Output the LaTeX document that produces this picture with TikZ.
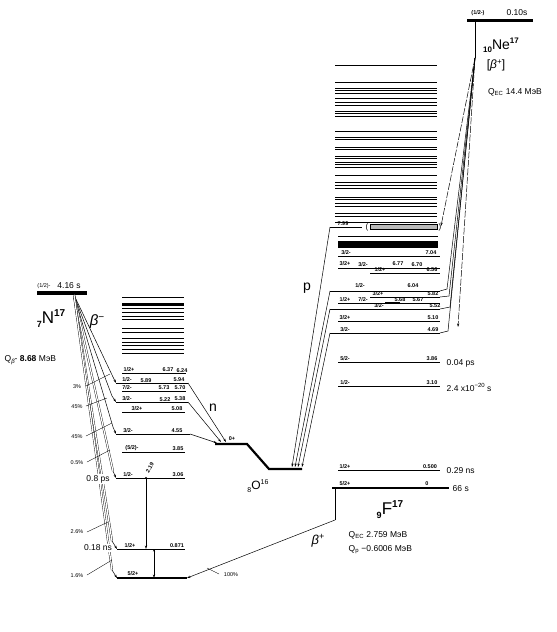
\documentclass[tikz,border=0pt]{standalone}
\usepackage{fontspec}
\setmainfont{Liberation Sans}
\usetikzlibrary{arrows.meta}
\newcommand\mklev[5][lev]{\coordinate (#2-l) at (#3,#5); \coordinate (#2-r) at (#4,#5); \draw[#1] (#2-l) -- (#2-r);}
\newcounter{lbc}
\newcommand\lab[4][sp]{\stepcounter{lbc}\node[#1] (lb\thelbc) at (#2,#3) {#4};}
\begin{document}
\begin{tikzpicture}[x=1pt,y=-1pt,
 lev/.style={line width=0.7pt},
 glev/.style={line width=2.8pt},
 sp/.style={font=\fontsize{5.5}{6}\selectfont\bfseries, inner sep=0.3pt, anchor=south},
 lbl/.style={font=\fontsize{8.5}{10}\selectfont, inner sep=0.5pt},
 pct/.style={font=\fontsize{5.5}{6}\selectfont, inner sep=0.5pt},
 arr/.style={-{Stealth[length=3.5pt,width=2.2pt]}, line width=0.5pt},
 bl/.style={line width=0.5pt},
 dbl/.style={double, double distance=1.3pt, line width=0.35pt},
 big/.style={font=\fontsize{17}{18}\selectfont, inner sep=0pt},
]
\fill[white] (0,0) rectangle (557,632);
\useasboundingbox (0,0) rectangle (557,632);

% ---------------- N17 ----------------
\mklev[line width=3.5pt]{n17}{37}{87}{293}
\lab[pct]{44}{286}{(1/2)-}
\lab[lbl]{69}{285.5}{4.16 s}
\node[big] (n17name) at (51,319) {\raisebox{-4pt}{\fontsize{9}{9}\selectfont\bfseries 7}N\raisebox{7pt}{\fontsize{10}{10}\selectfont\bfseries 17}};
\node[font=\fontsize{15}{15}\selectfont, inner sep=0pt] (bminus) at (97,322) {{\itshape β}\raisebox{5pt}{\fontsize{10}{10}\selectfont −}};
\node[lbl, anchor=west] (qbeta) at (4,360) {Q\raisebox{-2pt}{\fontsize{6}{6}\selectfont\itshape β}- \textbf{8.68} МэВ};
\coordinate (ap) at (74,295);

% ---------------- O17 levels ----------------
\foreach \yy in {297,308.5,312,316,319.5,328.5,332,338.5,342,345,349.5,353.5}
  \draw[lev] (122,\yy) -- (184,\yy);
\draw[line width=3.2pt] (122,304.5) -- (184,304.5);
\mklev{o637}{122}{186}{373}
\mklev{o594}{116}{188}{383}
\mklev{o570}{122}{186}{391}
\mklev{o538}{116}{188}{402}
\mklev{o508}{122}{185}{412}
\mklev{o455}{116}{190}{434}
\mklev{o385}{122}{185}{452}
\mklev{o306}{116}{185}{478}
\mklev{o087}{117}{185}{549}
\mklev[glev]{o000}{117}{187}{578}

\lab{129}{372}{1/2+} \lab{168}{372}{6.37} \lab{182}{373.5}{6.24}
\lab{127}{382}{1/2-} \lab{146}{383.5}{5.89} \lab{179}{382}{5.94}
\lab{127}{390}{7/2-} \lab{164}{390}{5.73} \lab{180}{390.5}{5.70}
\lab{127}{401}{3/2-} \lab{165}{402.5}{5.22} \lab{180}{401}{5.38}
\lab{137}{411}{3/2+} \lab{177}{411}{5.08}
\lab{128}{433}{3/2-} \lab{177}{433}{4.55}
\lab{132}{451}{(5/2)-} \lab{178}{451}{3.85}
\lab{128}{477}{1/2-} \lab{178}{477}{3.06}
\lab{130}{548}{1/2+} \lab{177}{548}{0.871}
\lab{133}{576}{5/2+}

% gammas in O17
\coordinate (g1a) at (146,478); \coordinate (g1b) at (146,549);
\fill (g1a) circle (1.2pt);
\draw[arr] (g1a) -- (g1b);
\node[sp, rotate=60, anchor=south west] (g1lab) at (149,474) {2.19};
\coordinate (g2a) at (154,549); \coordinate (g2b) at (154,578);
\draw[arr] (g2a) -- (g2b);
\draw[-{Stealth[length=2.5pt,width=2pt]}, line width=0.4pt] (154,552) -- (g2a);

% beta- lines from N17
\coordinate (k1) at (113,377); \coordinate (k2) at (112,396);
\coordinate (k3) at (113,427); \coordinate (k4) at (113,471);
\coordinate (k5) at (112,541); \coordinate (k6) at (112,570);
\draw[bl] (ap) -- (k1); \draw[arr] (k1) -- (o594-l);
\draw[bl] (ap) -- (k2); \draw[arr] (k2) -- (o538-l);
\draw[bl] (ap) -- (k3); \draw[arr] (k3) -- (o455-l);
\draw[dbl] (ap) -- (k4); \draw[arr] (k4) -- (o306-l);
\draw[dbl] (ap) -- (k5); \draw[arr] (k5) -- (o087-l);
\draw[dbl] (ap) -- (k6); \draw[arr] (k6) -- (o000-l);

% percentages
\lab[pct]{77}{387}{3\%}  \draw[line width=0.35pt] (86,386) -- (110,374);
\lab[pct]{77}{407}{45\%} \draw[line width=0.35pt] (86,406) -- (107,398);
\lab[pct]{77}{437}{45\%} \draw[line width=0.35pt] (86,436) -- (112,423);
\lab[pct]{77}{463}{0.5\%} \draw[line width=0.35pt] (87,462) -- (110,450);
\lab[pct]{77}{532}{2.6\%} \draw[line width=0.35pt] (87,532) -- (108,522);
\lab[pct]{77}{576}{1.6\%} \draw[line width=0.35pt] (87,575) -- (112,560);
\node[lbl, fill=white, inner sep=1pt] (t08) at (98,479) {0.8 ps};
\node[lbl, fill=white, inner sep=1pt] (t018) at (98,548) {0.18 ns};

% ---------------- O16 ----------------
\coordinate (o16a) at (215,444); \coordinate (o16b) at (247,444);
\coordinate (o16c) at (269,469); \coordinate (o16d) at (302,469);
\draw[line width=2.2pt, line join=miter] (o16a) -- (o16b) -- (o16c) -- (o16d);
\lab{232}{441}{0+}
\node[font=\fontsize{12}{12}\selectfont, inner sep=0pt] (o16name) at (258,486) {\raisebox{-3pt}{\fontsize{7}{7}\selectfont 8}O\raisebox{5pt}{\fontsize{7}{7}\selectfont 16}};

% neutron lines
\coordinate (na1) at (226,442); \coordinate (na2) at (221,442); \coordinate (na3) at (217,443);
\draw[arr] (o594-r) -- (na1);
\draw[arr] (o538-r) -- (na2);
\draw[arr] (o455-r) -- (na3);
\node[font=\fontsize{14}{14}\selectfont, inner sep=0pt] (nlab) at (213,408) {n};

% ---------------- F17 levels ----------------
\foreach \yy in {65,82,88,90.5,93,98,102,105,111,113.5,116,131,137,139.5,147,149.5,156,158.5,162,164.5,167,175,182,185,188,197,199.5,203,206,213,216,222}
  \draw[lev] (335,\yy) -- (437,\yy);
\mklev{f799}{330}{362}{227}
\draw[fill=gray!55, line width=0.5pt] (370,224.6) rectangle (437,229.4);
\node[font=\fontsize{8}{8}\selectfont, inner sep=0pt] (brl) at (367,227) {(};
\node[font=\fontsize{8}{8}\selectfont, inner sep=0pt] (brr) at (440,227) {)};
\coordinate (f799r) at (441,226);
\draw[lev] (338,236) -- (438,236);
\fill (338,241) rectangle (438,248);
\mklev{f704}{338}{440}{256}
\mklev{f677}{338}{440}{268}
\draw[lev] (370,273) -- (440,273);
\mklev{f604}{330}{440}{291}
\mklev{f582}{370}{440}{297}
\mklev{f568}{338}{440}{303}
\draw[line width=1.8pt] (385,303) -- (400,303);
\mklev{f552}{330}{440}{309}
\mklev{f510}{338}{440}{321}
\mklev{f469}{330}{440}{333}
\mklev{f386}{338}{440}{362}
\mklev{f310}{338}{440}{386}
\mklev{f050}{338}{440}{470}
\mklev[glev]{f000}{332}{449}{488}

\lab{343}{226}{7.99}
\lab{346}{255}{3/2-} \lab{431}{255}{7.04}
\lab{345}{266}{3/2+} \lab{363}{267}{3/2-} \lab{380}{272}{1/2+}
\lab{398}{266}{6.77} \lab{417}{267}{6.70} \lab{432}{272}{6.56}
\lab{360}{288}{1/2-} \lab{413}{288}{6.04}
\lab{378}{296}{3/2+} \lab{433}{296}{5.82}
\lab{345}{302}{1/2+} \lab{363}{302}{7/2-} \lab{400}{302}{5.68} \lab{418}{302}{5.67}
\lab{379}{308}{3/2-} \lab{435}{308}{5.52}
\lab{345}{320}{3/2+} \lab{433}{320}{5.10}
\lab{345}{332}{3/2-} \lab{433}{332}{4.69}
\lab{345}{361}{5/2-} \lab{432}{361}{3.86}
\lab{345}{385}{1/2-} \lab{432}{385}{3.10}
\lab{345}{469}{1/2+} \lab{430}{469}{0.500}
\lab{345}{486}{5/2+} \lab{427}{486}{0}
\node[lbl, anchor=west] (t004) at (446,363) {0.04 ps};
\node[lbl, anchor=west] (t24) at (446,387) {2.4 x10\raisebox{4pt}{\fontsize{6}{6}\selectfont −20} s};
\node[lbl, anchor=west] (t029) at (446,471) {0.29 ns};
\node[lbl, anchor=west] (t66) at (452,489) {66 s};
\node[big] (f17name) at (390,510) {\raisebox{-4pt}{\fontsize{9}{9}\selectfont\bfseries 9}F\raisebox{7pt}{\fontsize{10}{10}\selectfont\bfseries 17}};
\node[lbl, anchor=west] (qec) at (348,535) {Q$_{\mathrm{EC}}$ 2.759 МэВ};
\node[lbl, anchor=west] (qp) at (348,550) {Q$_{\mathrm{p}}$ −0.6006 МэВ};

% proton lines
\coordinate (pa1) at (292,467); \coordinate (pa2) at (295,467);
\coordinate (pa3) at (298,467); \coordinate (pa4) at (302,467);
\draw[arr] (f799-l) -- (pa1);
\draw[arr] (f604-l) -- (pa2);
\draw[arr] (f552-l) -- (pa3);
\draw[arr] (f469-l) -- (pa4);
\node[font=\fontsize{14}{14}\selectfont, inner sep=0pt] (plab) at (307,288) {p};

% beta+ F17 -> O17
\coordinate (fb1) at (335,488); \coordinate (fb2) at (335,520);
\draw[bl] (fb1) -- (fb2);
\draw[arr] (fb2) -- (o000-r);
\node[font=\fontsize{13}{13}\selectfont, inner sep=0pt] (bplus) at (318,541) {{\itshape β}\raisebox{5pt}{\fontsize{9}{9}\selectfont +}};
\lab[pct]{231}{575}{100\%}
\draw[line width=0.35pt] (219,574) -- (207,568);

% ---------------- Ne17 ----------------
\mklev[line width=3pt]{ne}{467}{533}{20}
\lab{478}{16}{(1/2-)}
\node[lbl] (t010) at (517,13) {0.10s};
\node[font=\fontsize{14}{14}\selectfont, inner sep=0pt] (ne17name) at (501,45) {\raisebox{-3pt}{\fontsize{8}{8}\selectfont\bfseries 10}Ne\raisebox{6pt}{\fontsize{8}{8}\selectfont\bfseries 17}};
\node[font=\fontsize{12}{12}\selectfont, inner sep=0pt] (bpne) at (496,65) {[{\itshape β}\raisebox{4pt}{\fontsize{8}{8}\selectfont +}]};
\node[lbl] (qecne) at (515,92) {Q$_{\mathrm{EC}}$ 14.4 МэВ};
\coordinate (nf) at (475,58);
\draw[line width=0.8pt] (ne-l -| nf) -- (nf);
\coordinate (b2) at (447,289); \coordinate (b3) at (449,296);
\coordinate (b4) at (450,307); \coordinate (b5) at (448,331);
\coordinate (b6) at (458,327);
\draw[arr, dash pattern=on 7pt off 1.5pt] (nf) -- (f799r);
\draw[bl] (nf) -- (b2) -- (f604-r);
\draw[bl] (nf) -- (b3) -- (f582-r);
\draw[bl] (nf) -- (b4) -- (f552-r);
\draw[bl] (nf) -- (b5) -- (f469-r);
\draw[arr, dash pattern=on 7pt off 1.5pt] (nf) -- (b6);
\end{tikzpicture}
\end{document}
